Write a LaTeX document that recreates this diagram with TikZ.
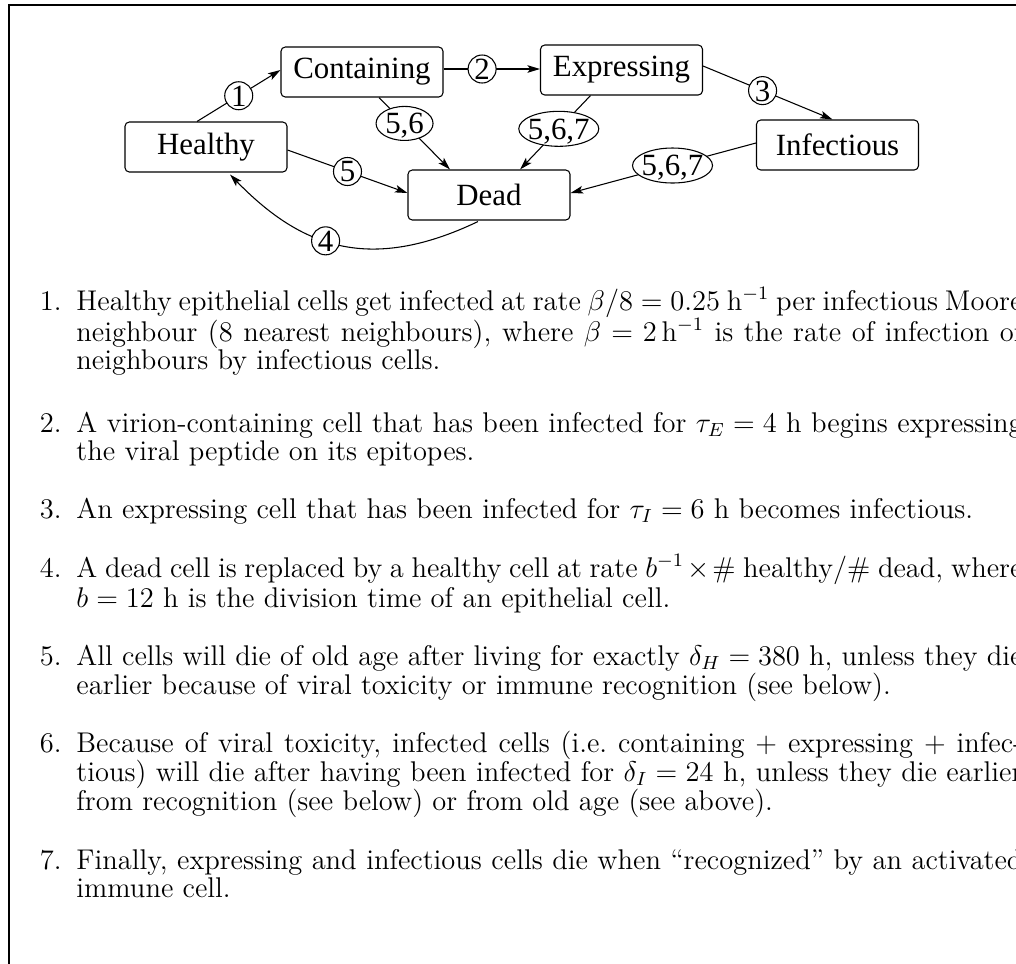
\documentclass[tikz,border=0pt]{standalone}
\usepackage{fontspec}
\newfontfamily\timesf{Liberation Serif}
\usetikzlibrary{arrows.meta,shapes.geometric}
\newlength\pxu \setlength\pxu{0.42105pt}
\newcommand\jline[1]{\makebox[946\pxu][s]{#1}}
\tikzset{
  box/.style={draw, line width=0.45pt, rounded corners=1.8pt, minimum width=162\pxu,
    minimum height=50\pxu, inner sep=0pt, font=\timesf\fontsize{13}{15}\selectfont},
  lab/.style={draw, fill=white, line width=0.45pt, inner sep=-5pt, text height=8.8pt,
    text depth=0pt, font=\timesf\fontsize{13}{15}\selectfont},
  circ/.style={lab, circle, minimum size=28\pxu},
  ellA/.style={lab, ellipse, minimum width=57\pxu, minimum height=34\pxu},
  ellB/.style={lab, ellipse, minimum width=80\pxu, minimum height=35\pxu},
  arr/.style={-{Stealth[length=5.3pt,width=3.2pt,inset=1.2pt]}, line width=0.45pt},
  itxt/.style={anchor=base west, inner sep=0pt, font=\fontsize{12}{12}\selectfont},
  inum/.style={anchor=base east, inner sep=0pt, font=\fontsize{12}{12}\selectfont}
}
\begin{document}
\begin{tikzpicture}[x=0.42105pt, y=-0.42105pt]
\useasboundingbox (0,0) rectangle (1016,963);
\clip (0,0) rectangle (1016,963);
% frame
\draw[line width=0.6pt] (9,970) -- (9,5) -- (1030,5);
% states
\node[box] (h) at (206,147) {Healthy};
\node[box] (c) at (362,72) {Containing};
\node[box] (e) at (621.5,70) {Expressing};
\node[box] (i) at (837.5,145) {Infectious};
\node[box] (d) at (489,195) {Dead};
% transitions
\draw[arr] ([shift={(-9,0)}]h.north) -- node[circ,pos=0.5] (n1) {1} ([shift={(0,-2)}]c.west);
\draw[arr] ([shift={(0,-3)}]c.east) -- node[circ,pos=0.4] (n2) {2} ([shift={(0,-1)}]e.west);
\draw[arr] ([shift={(0,-4)}]e.east) -- node[circ,pos=0.46] (n3) {3} ([shift={(-5,0)}]i.north);
\draw[arr] ([shift={(0,3)}]h.east) -- node[circ,pos=0.5] (n5) {5} ([shift={(0,-2)}]d.west);
\draw[arr] ([shift={(17,0)}]c.south) -- node[ellA,pos=0.36] (n56) {5,6} ([shift={(-39,0)}]d.north);
\draw[arr] ([shift={(-31,0)}]e.south) -- node[ellB,pos=0.45] (n567a) {5,6,7} ([shift={(31,0)}]d.north);
\draw[arr] ([shift={(0,-2)}]i.west) -- node[ellB,pos=0.45] (n567b) {5,6,7} ([shift={(0,-2)}]d.east);
\draw[arr] ([shift={(-11,1)}]d.south) .. controls ([shift={(-120,53)}]d.south) and ([shift={(94.7,74.7)}]h.south) .. node[circ,pos=0.56] (n4) {4} ([shift={(24,2)}]h.south);
% list
\node[inum] (k1) at (62,310) {1.};
\node[itxt] (t1a) at (76,310) {\jline{Healthy epithelial cells get infected at rate $\beta/8 = 0.25$ h$^{-1}$ per infectious Moore}};
\node[itxt] (t1b) at (76,341) {\jline{neighbour (8 nearest neighbours), where $\beta = 2\,$h$^{-1}$ is the rate of infection of}};
\node[itxt] (t1c) at (76,369) {neighbours by infectious cells.};
\node[inum] (k2) at (62,432) {2.};
\node[itxt] (t2a) at (76,432) {\jline{A virion-containing cell that has been infected for $\tau_E = 4$ h begins expressing}};
\node[itxt] (t2b) at (76,460) {the viral peptide on its epitopes.};
\node[inum] (k3) at (62,518) {3.};
\node[itxt] (t3a) at (76,518) {An expressing cell that has been infected for $\tau_I = 6$ h becomes infectious.};
\node[inum] (k4) at (62,577) {4.};
\node[itxt] (t4a) at (76,577) {\jline{A dead cell is replaced by a healthy cell at rate $b^{-1}\times\#$ healthy$/\#$ dead, where}};
\node[itxt] (t4b) at (76,607) {$b = 12$ h is the division time of an epithelial cell.};
\node[inum] (k5) at (62,665) {5.};
\node[itxt] (t5a) at (76,665) {\jline{All cells will die of old age after living for exactly $\delta_H = 380$ h, unless they die}};
\node[itxt] (t5b) at (76,694) {earlier because of viral toxicity or immune recognition (see below).};
\node[inum] (k6) at (62,752) {6.};
\node[itxt] (t6a) at (76,752) {\jline{Because of viral toxicity, infected cells (i.e.\ containing $+$ expressing $+$ infec-}};
\node[itxt] (t6b) at (76,781) {\jline{tious) will die after having been infected for $\delta_I = 24$ h, unless they die earlier}};
\node[itxt] (t6c) at (76,810) {from recognition (see below) or from old age (see above).};
\node[inum] (k7) at (62,869) {7.};
\node[itxt] (t7a) at (76,869) {\jline{Finally, expressing and infectious cells die when ``recognized'' by an activated}};
\node[itxt] (t7b) at (76,897) {immune cell.};
\end{tikzpicture}
\end{document}
